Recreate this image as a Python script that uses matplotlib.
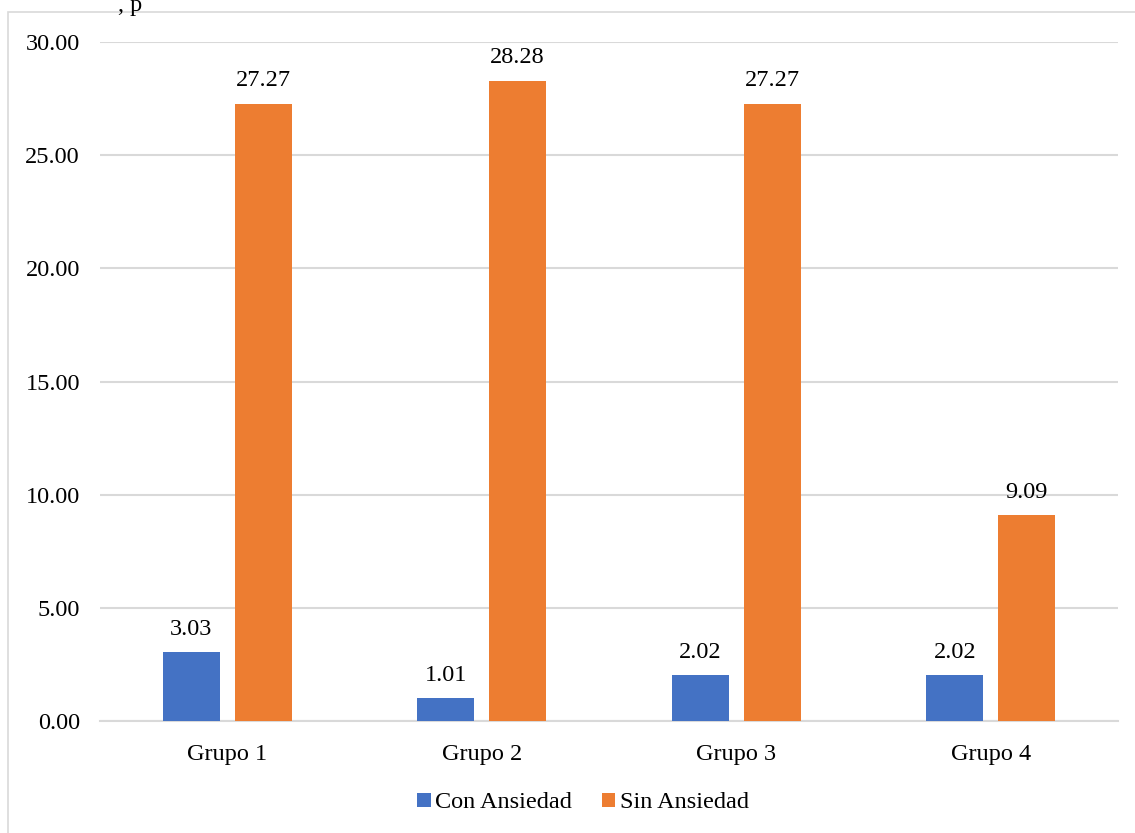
import matplotlib
matplotlib.use("Agg")
import matplotlib.pyplot as plt
import numpy as np
from matplotlib.patches import Rectangle, Patch

categories = ["Grupo 1", "Grupo 2", "Grupo 3", "Grupo 4"]
con_ansiedad = [3.03, 1.01, 2.02, 2.02]
sin_ansiedad = [27.27, 28.28, 27.27, 9.09]
series_names = ["Con Ansiedad", "Sin Ansiedad"]
y_ticks = [0, 5, 10, 15, 20, 25, 30]

BLUE = "#4472C4"
ORANGE = "#ED7D31"
GRID = "#D9D9D9"
FS = 17.5

plt.rcParams["font.family"] = ["Liberation Serif", "DejaVu Serif"]

fig = plt.figure(figsize=(11.35, 8.33), dpi=100)
ax = fig.add_axes([100 / 1135, 1 - 721 / 833, 1018 / 1135, (721 - 42) / 833])

x = np.arange(len(categories))
w = 0.224
off = 0.141
b1 = ax.bar(x - off, con_ansiedad, w, color=BLUE, zorder=3)
b2 = ax.bar(x + off, sin_ansiedad, w, color=ORANGE, zorder=3)

for bars, vals in ((b1, con_ansiedad), (b2, sin_ansiedad)):
    for bar, v in zip(bars, vals):
        ax.annotate(f"{v:.2f}", (bar.get_x() + bar.get_width() / 2, v),
                    xytext=(0, 9), textcoords="offset points",
                    ha="center", va="bottom", fontsize=FS, color="#000000")

ax.set_xlim(-0.5, len(categories) - 0.5)
ax.set_ylim(0, 30)
ax.set_yticks(y_ticks)
ax.set_yticklabels([f"{t:.2f}" for t in y_ticks], fontsize=FS)
ax.set_xticks(x)
ax.set_xticklabels(categories, fontsize=FS)
ax.tick_params(axis="both", length=0)
ax.tick_params(axis="y", pad=14.5)
ax.tick_params(axis="x", pad=16.5)
ax.yaxis.grid(True, color=GRID, linewidth=1.5, zorder=0)
ax.set_axisbelow(True)
for s in ("left", "right", "top"):
    ax.spines[s].set_visible(False)
ax.spines["bottom"].set_color(GRID)
ax.spines["bottom"].set_linewidth(1.5)

handles = [Patch(facecolor=BLUE), Patch(facecolor=ORANGE)]
fig.legend(handles, series_names, loc="center", bbox_to_anchor=(583 / 1135, 1 - 803 / 833),
           ncol=2, frameon=False, fontsize=FS, handlelength=0.55, handleheight=0.55,
           handletextpad=0.2, columnspacing=1.2)

# chart frame
fig.patches.append(Rectangle((8 / 1135, -0.05), 1.2, 1 - 12 / 833 + 0.05,
                             transform=fig.transFigure, fill=False,
                             edgecolor=GRID, linewidth=1.2))

# caption above the frame
fig.text(118 / 1135, 1 - 11 / 833, ", p", fontsize=FS, va="baseline", ha="left")

fig.savefig("out.png", dpi=100)
